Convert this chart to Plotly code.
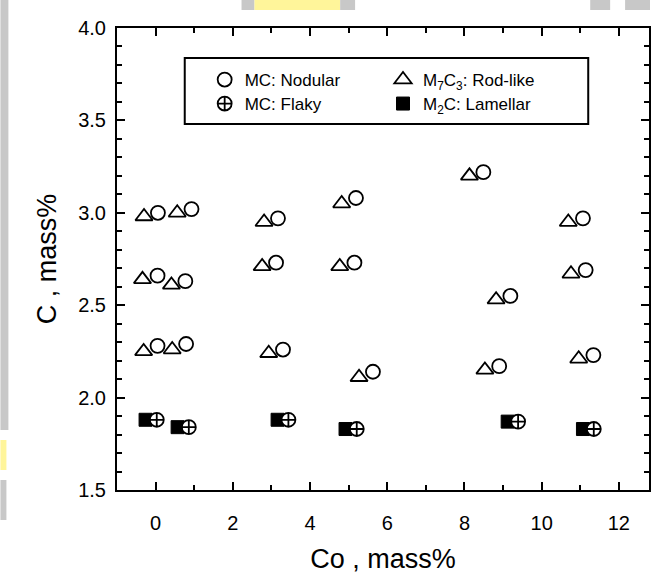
import plotly.graph_objects as go

# Co and C contents (mass%) of each alloy, one list pair per carbide type
co_m7c3 = [-0.30, 0.56, 2.81, 2.76, -0.34, 0.41, 4.82, 4.77, 8.13, 10.69,
           10.76, 8.82, 8.53, 10.96, -0.31, 0.43, 2.93, 5.27]
c_m7c3 = [2.98, 3.00, 2.95, 2.71, 2.64, 2.61, 3.05, 2.71, 3.20, 2.95,
          2.67, 2.53, 2.15, 2.21, 2.25, 2.26, 2.24, 2.11]

co_nodular = [0.06, 0.93, 3.17, 3.12, 0.05, 0.77, 5.19, 5.15, 8.49, 11.07,
              11.14, 9.19, 8.90, 11.34, 0.05, 0.79, 3.30, 5.63]
c_nodular = [3.00, 3.02, 2.97, 2.73, 2.66, 2.63, 3.08, 2.73, 3.22, 2.97,
             2.69, 2.55, 2.17, 2.23, 2.28, 2.29, 2.26, 2.14]

co_m2c = [-0.26, 0.57, 3.16, 4.92, 9.12, 11.07]
c_m2c = [1.88, 1.84, 1.88, 1.83, 1.87, 1.83]

co_flaky = [0.03, 0.86, 3.44, 5.21, 9.39, 11.35]
c_flaky = [1.88, 1.84, 1.88, 1.83, 1.87, 1.83]

x_ticks = [0, 2, 4, 6, 8, 10, 12]
y_ticks = [1.5, 2.0, 2.5, 3.0, 3.5, 4.0]
y_tick_text = ["1.5", "2.0", "2.5", "3.0", "3.5", "4.0"]

W, H = 652, 577
L, R, T, B = 117, 1, 28, 87
PW, PH = W - L - R, H - T - B

FONT = "Liberation Sans, Arial, Helvetica, sans-serif"


def px_x(p):
    return (p - L) / PW


def px_y(p):
    return (H - B - p) / PH


fig = go.Figure()

fig.add_trace(go.Scatter(
    x=co_m7c3, y=c_m7c3, mode="markers", name="M<sub>7</sub>C<sub>3</sub>: Rod-like",
    legend="legend2",
    marker=dict(symbol="triangle-up-open", size=15, color="black",
                line=dict(color="black", width=1.8)),
))
fig.add_trace(go.Scatter(
    x=co_nodular, y=c_nodular, mode="markers", name="MC: Nodular",
    legend="legend",
    marker=dict(symbol="circle-open", size=14, color="black",
                line=dict(color="black", width=1.8)),
))
fig.add_trace(go.Scatter(
    x=co_m2c, y=c_m2c, mode="markers", name="M<sub>2</sub>C: Lamellar",
    legend="legend4",
    marker=dict(symbol="square", size=13, color="black",
                line=dict(color="black", width=1)),
))
fig.add_trace(go.Scatter(
    x=co_flaky, y=c_flaky, mode="markers", name="MC: Flaky",
    legend="legend3",
    marker=dict(symbol="circle-cross", size=14, color="white",
                line=dict(color="black", width=1.8)),
))

axis_common = dict(
    showgrid=False, zeroline=False, showline=True, linecolor="black",
    linewidth=2, mirror="allticks", ticks="inside", ticklen=8,
    tickwidth=1.8, tickcolor="black",
    tickfont=dict(family=FONT, size=20, color="black"),
)

fig.update_xaxes(
    range=[-1, -1 + PW / 38.75], tickvals=x_ticks,
    minor=dict(dtick=1, tick0=0, ticks="inside", ticklen=5, tickwidth=1.5,
               tickcolor="black"),
    title=dict(text="Co , mass%", font=dict(family=FONT, size=27, color="black"),
               standoff=16),
    ticklabelstandoff=14,
    **axis_common,
)
fig.update_yaxes(
    range=[1.5, 4.0], tickvals=y_ticks, ticktext=y_tick_text,
    minor=dict(dtick=0.1, tick0=1.5, ticks="inside", ticklen=5, tickwidth=1.5,
               tickcolor="black"),
    title=dict(text="C , mass%", font=dict(family=FONT, size=27, color="black"),
               standoff=14),
    ticklabelstandoff=5,
    **axis_common,
)

legend_common = dict(
    orientation="v", yanchor="middle", xanchor="left",
    bgcolor="rgba(0,0,0,0)", borderwidth=0, tracegroupgap=0,
    font=dict(family=FONT, size=17, color="black"), itemsizing="trace",
)

shapes = [
    # legend frame
    dict(type="rect", xref="paper", yref="paper",
         x0=px_x(185), x1=px_x(590), y0=px_y(124), y1=px_y(58),
         line=dict(color="black", width=2), fillcolor="rgba(0,0,0,0)"),
]

# faint scan background bands around the figure
band = [
    (0, 8, 0, 430, "#c8c8c8"),
    (0, 6, 440, 470, "#fff59a"),
    (0, 6, 480, 520, "#c8c8c8"),
    (242, 255, 0, 10, "#c8c8c8"),
    (255, 341, 0, 10, "#fff59a"),
    (341, 356, 0, 10, "#c8c8c8"),
    (592, 612, 0, 10, "#c8c8c8"),
    (627, 652, 0, 10, "#c8c8c8"),
]
for x0, x1, y0, y1, col in band:
    shapes.append(dict(type="rect", xref="paper", yref="paper",
                       x0=px_x(x0), x1=px_x(x1), y0=px_y(y1), y1=px_y(y0),
                       line=dict(width=0), fillcolor=col, layer="below"))

fig.update_layout(
    width=W, height=H,
    margin=dict(l=L, r=R, t=T, b=B, pad=0),
    paper_bgcolor="white", plot_bgcolor="white",
    legend=dict(x=px_x(205), y=px_y(80), **legend_common),
    legend2=dict(x=px_x(384), y=px_y(80), **legend_common),
    legend3=dict(x=px_x(205), y=px_y(104), **legend_common),
    legend4=dict(x=px_x(384), y=px_y(104), **legend_common),
    shapes=shapes,
    showlegend=True,
)

fig.write_html("out.html")
